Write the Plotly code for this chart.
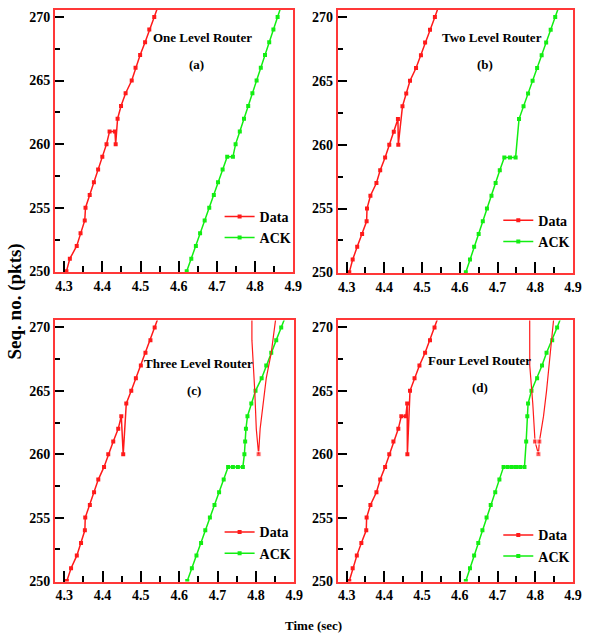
import plotly.graph_objects as go

# ---------------- data ----------------
panel_titles = ["One Level Router", "Two Level Router", "Three Level Router", "Four Level Router"]
panel_tags = ["(a)", "(b)", "(c)", "(d)"]
series_names = ["Data", "ACK"]

data_a_t = [4.306, 4.315, 4.333, 4.343, 4.354, 4.356, 4.367, 4.378, 4.389, 4.400, 4.411, 4.419,
            4.433, 4.435, 4.440, 4.449, 4.461, 4.477, 4.487, 4.499, 4.512, 4.523, 4.536, 4.548]
data_a_s = [250, 251, 252, 253, 254, 255, 256, 257, 258, 259, 260, 261,
            261, 260, 262, 263, 264, 265, 266, 267, 268, 269, 270, 271]
ack_a_t = [4.621, 4.633, 4.645, 4.656, 4.668, 4.680, 4.692, 4.703, 4.715, 4.727, 4.742, 4.749,
           4.760, 4.771, 4.782, 4.793, 4.804, 4.815, 4.826, 4.837, 4.848, 4.859, 4.870]
ack_a_s = [250, 251, 252, 253, 254, 255, 256, 257, 258, 259, 259, 260,
           261, 262, 263, 264, 265, 266, 267, 268, 269, 270, 271]

data_b_t = [4.307, 4.316, 4.328, 4.341, 4.353, 4.354, 4.363, 4.379, 4.389, 4.402, 4.413, 4.425,
            4.436, 4.437, 4.448, 4.458, 4.468, 4.484, 4.497, 4.508, 4.521, 4.534, 4.546]
data_b_s = [250, 251, 252, 253, 254, 255, 256, 257, 258, 259, 260, 261,
            262, 260, 263, 264, 265, 266, 267, 268, 269, 270, 271]
ack_b_t = [4.616, 4.627, 4.638, 4.650, 4.661, 4.672, 4.684, 4.695, 4.706, 4.718, 4.733, 4.748,
           4.757, 4.769, 4.781, 4.793, 4.805, 4.817, 4.829, 4.841, 4.853, 4.865]
ack_b_s = [250, 251, 252, 253, 254, 255, 256, 257, 258, 259, 259, 259,
           262, 263, 264, 265, 266, 267, 268, 269, 270, 271]

data_c_t = [4.307, 4.318, 4.333, 4.344, 4.354, 4.355, 4.367, 4.378, 4.389, 4.404, 4.415, 4.428,
            4.441, 4.449, 4.454, 4.462, 4.475, 4.487, 4.500, 4.512, 4.525, 4.536, 4.548]
data_c_s = [250, 251, 252, 253, 254, 255, 256, 257, 258, 259, 260, 261,
            262, 263, 260, 264, 265, 266, 267, 268, 269, 270, 271]
tail_c_t = [4.7895, 4.7896, 4.797, 4.801, 4.807, 4.811, 4.827, 4.840, 4.853, 4.858]
tail_c_s = [280, 269, 265, 262, 260, 262, 266, 268, 271, 272]
ack_c_t = [4.621, 4.633, 4.645, 4.657, 4.668, 4.680, 4.692, 4.704, 4.716, 4.7275, 4.740, 4.753,
           4.766, 4.770, 4.772, 4.774, 4.778, 4.788, 4.799, 4.815, 4.827, 4.840, 4.853, 4.866, 4.879]
ack_c_s = [250, 251, 252, 253, 254, 255, 256, 257, 258, 259, 259, 259,
           259, 260, 261, 262, 263, 264, 265, 266, 267, 268, 269, 270, 271]

data_d_t = [4.307, 4.316, 4.327, 4.339, 4.352, 4.353, 4.363, 4.379, 4.389, 4.402, 4.413, 4.424,
            4.437, 4.445, 4.457, 4.4605, 4.461, 4.468, 4.480, 4.493, 4.508, 4.521, 4.533, 4.545]
data_d_s = [250, 251, 252, 253, 254, 255, 256, 257, 258, 259, 260, 261,
            262, 263, 263, 264, 260, 265, 266, 267, 268, 269, 270, 271]
tail_d_t = [4.785, 4.7855, 4.7935, 4.7995, 4.8085, 4.811, 4.822, 4.830, 4.840, 4.850]
tail_d_s = [280, 267, 264, 261, 260, 261, 263, 265, 268, 271]
ack_d_t = [4.616, 4.627, 4.638, 4.649, 4.660, 4.671, 4.682, 4.694, 4.705, 4.716, 4.727, 4.738,
           4.749, 4.760, 4.7715, 4.776, 4.779, 4.781, 4.790, 4.805, 4.818, 4.830, 4.845, 4.858, 4.871]
ack_d_s = [250, 251, 252, 253, 254, 255, 256, 257, 258, 259, 259, 259,
           259, 259, 259, 261, 263, 264, 265, 266, 267, 268, 269, 270, 271]

x_ticks = [4.3, 4.4, 4.5, 4.6, 4.7, 4.8, 4.9]
y_ticks = [250, 255, 260, 265, 270]

# ---------------- figure ----------------
W, H = 591, 644
RED = "#ff1a1a"
GREEN = "#12ee12"
FRAME = "#ff3838"
FONT = "Times New Roman, Liberation Serif, serif"

panels = [
    (data_a_t, data_a_s, ack_a_t, ack_a_s, None, None),
    (data_b_t, data_b_s, ack_b_t, ack_b_s, None, None),
    (data_c_t, data_c_s, ack_c_t, ack_c_s, tail_c_t, tail_c_s),
    (data_d_t, data_d_s, ack_d_t, ack_d_s, tail_d_t, tail_d_s),
]

# pixel boxes (left, top, right, bottom) of each plot frame
boxes = [(56, 10, 298, 275), (343, 10, 582, 276), (56, 324, 299, 588), (343, 324, 582, 588)]
title_pos = [(206, 38, 200, 65), (500, 38, 493, 65), (202, 367, 197, 395), (487, 364, 487, 392)]
legend_pos = [(223, 203), (506, 207), (223, 522), (506, 525)]

fig = go.Figure()
layout = {}
annotations = []

def px_x(p):
    return p / W

def px_y(p):
    return 1 - p / H

for i, (dt, ds, at, as_, tt, ts) in enumerate(panels):
    n = "" if i == 0 else str(i + 1)
    xa, ya = "x" + n, "y" + n
    lg = "legend" + n
    fig.add_trace(go.Scatter(
        x=dt, y=ds, name=series_names[0], mode="lines+markers", xaxis=xa, yaxis=ya,
        line=dict(color=RED, width=1.5), marker=dict(symbol="square", size=4, color=RED),
        legend=lg, showlegend=True))
    fig.add_trace(go.Scatter(
        x=at, y=as_, name=series_names[1], mode="lines+markers", xaxis=xa, yaxis=ya,
        line=dict(color=GREEN, width=1.5), marker=dict(symbol="square", size=4, color=GREEN),
        legend=lg, showlegend=True))
    if tt is not None:
        sizes = [5 if s <= 261 else 0 for s in ts]
        fig.add_trace(go.Scatter(
            x=tt, y=ts, name=series_names[0], mode="lines+markers", xaxis=xa, yaxis=ya,
            line=dict(color=RED, width=1.2), marker=dict(symbol="square", size=sizes, color=RED),
            showlegend=False))

    l, t, r, b = boxes[i]
    axis_common = dict(showline=True, mirror=True, linecolor=FRAME, linewidth=2,
                       showgrid=False, zeroline=False, ticks="inside", tickcolor="black",
                       tickwidth=1.5,
                       tickfont=dict(family=FONT, size=14, color="black", weight="bold"))
    layout["xaxis" + n] = dict(
        axis_common, domain=[px_x(l), px_x(r)], anchor=ya, range=[4.2765, 4.9005],
        tickvals=x_ticks, ticktext=[f"{v:.1f}" for v in x_ticks], ticklen=11,
        minor=dict(dtick=0.05, tick0=4.3, ticklen=6, tickcolor="black", tickwidth=1.5, ticks="inside"))
    layout["yaxis" + n] = dict(
        axis_common, domain=[px_y(b), px_y(t)], anchor=xa, range=[249.95, 270.55],
        tickvals=y_ticks, ticktext=[str(v) for v in y_ticks], ticklen=9,
        minor=dict(dtick=2.5, tick0=250, ticklen=5, tickcolor="black", tickwidth=1.5, ticks="inside"))

    lx, ly = legend_pos[i]
    layout[lg] = dict(x=px_x(lx), y=px_y(ly), xanchor="left", yanchor="top",
                      bgcolor="rgba(0,0,0,0)", borderwidth=0, itemwidth=30,
                      tracegroupgap=0,
                      font=dict(family=FONT, size=14, color="black", weight="bold"))

    tx, ty, gx, gy = title_pos[i]
    annotations.append(dict(text=panel_titles[i], x=px_x(tx), y=px_y(ty), xref="paper", yref="paper",
                            showarrow=False, xanchor="center", yanchor="middle",
                            font=dict(family=FONT, size=13, color="black", weight="bold")))
    annotations.append(dict(text=panel_tags[i], x=px_x(gx), y=px_y(gy), xref="paper", yref="paper",
                            showarrow=False, xanchor="center", yanchor="middle",
                            font=dict(family=FONT, size=13, color="black", weight="bold")))

annotations.append(dict(text="Seq. no. (pkts)", x=px_x(15), y=px_y(305), xref="paper", yref="paper",
                        showarrow=False, textangle=-90, xanchor="center", yanchor="middle",
                        font=dict(family=FONT, size=19, color="black", weight="bold")))
annotations.append(dict(text="Time (sec)", x=px_x(318), y=px_y(632), xref="paper", yref="paper",
                        showarrow=False, xanchor="center", yanchor="middle",
                        font=dict(family=FONT, size=13, color="black", weight="bold")))

fig.update_layout(**layout)
fig.update_layout(
    width=W, height=H, margin=dict(l=0, r=0, t=0, b=0),
    paper_bgcolor="white", plot_bgcolor="white",
    font=dict(family=FONT, color="black", weight="bold"),
    annotations=annotations,
)

fig.write_html("out.html", config={"displayModeBar": False},
               post_script="document.body.style.margin='0';")
